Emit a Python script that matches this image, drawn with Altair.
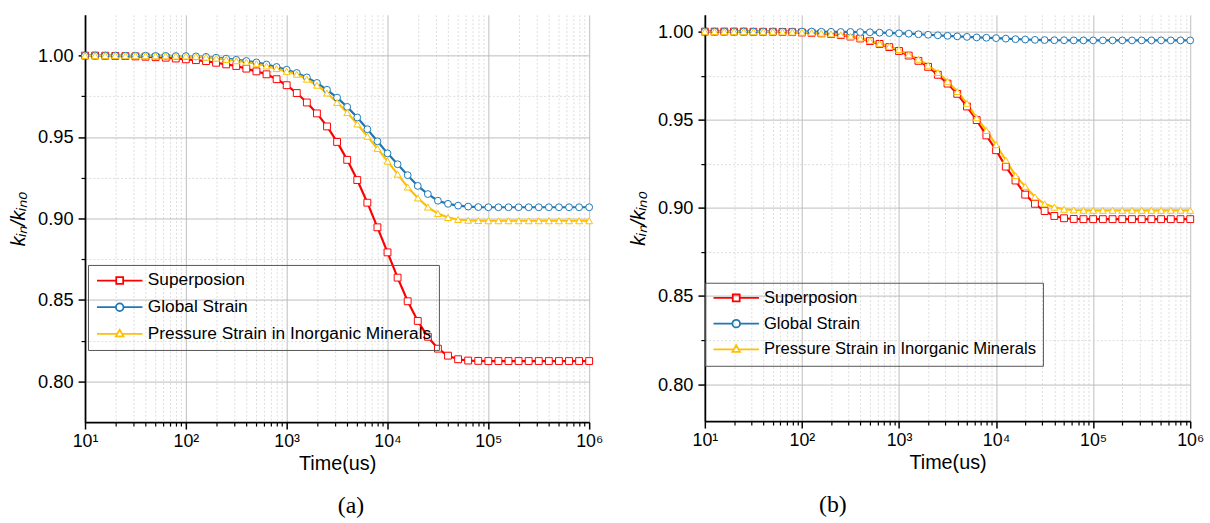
import altair as alt
import pandas as pd

FONT = "Liberation Sans"

# sampling times (us), 10 points per decade
time_us = [10.0, 12.59, 15.85, 19.95, 25.12, 31.62, 39.81, 50.12, 63.10, 79.43,
           100.0, 125.9, 158.5, 199.5, 251.2, 316.2, 398.1, 501.2, 631.0, 794.3,
           1000.0, 1259.0, 1585.0, 1995.0, 2512.0, 3162.0, 3981.0, 5012.0, 6310.0, 7943.0,
           10000.0, 12589.0, 15849.0, 19953.0, 25119.0, 31623.0, 39811.0, 50119.0, 63096.0, 79433.0,
           100000.0, 125893.0, 158489.0, 199526.0, 251189.0, 316228.0, 398107.0, 501187.0, 630957.0, 794328.0,
           1000000.0]

series_names = ["Superposion", "Global Strain", "Pressure Strain in Inorganic Minerals"]
series_colors = ["#FF0000", "#1F77B4", "#FFC000"]
series_shapes = ["square", "circle", "triangle-up"]

# panel (a)
a_super = [1.0000, 1.0000, 0.9999, 0.9998, 0.9997, 0.9995, 0.9993, 0.9990, 0.9987, 0.9982,
           0.9977, 0.9972, 0.9966, 0.9956, 0.9946, 0.9936, 0.9920, 0.9903, 0.9885, 0.9855,
           0.9818, 0.9770, 0.9712, 0.9645, 0.9565, 0.9470, 0.9360, 0.9236, 0.9097, 0.8946,
           0.8792, 0.8637, 0.8492, 0.8371, 0.8274, 0.8201, 0.8158, 0.8136, 0.8128, 0.8126,
           0.8125, 0.8125, 0.8125, 0.8125, 0.8125, 0.8125, 0.8125, 0.8125, 0.8125, 0.8125,
           0.8125]
a_global = [1.0000, 1.0000, 1.0000, 1.0000, 0.9999, 0.9999, 0.9999, 0.9998, 0.9998, 0.9997,
            0.9997, 0.9995, 0.9992, 0.9987, 0.9981, 0.9974, 0.9967, 0.9958, 0.9945, 0.9930,
            0.9913, 0.9893, 0.9866, 0.9832, 0.9790, 0.9742, 0.9685, 0.9620, 0.9548, 0.9474,
            0.9400, 0.9333, 0.9266, 0.9200, 0.9150, 0.9109, 0.9090, 0.9079, 0.9073, 0.9070,
            0.9069, 0.9069, 0.9069, 0.9069, 0.9069, 0.9069, 0.9069, 0.9069, 0.9069, 0.9069,
            0.9069]
a_pressure = [1.0000, 1.0000, 1.0000, 1.0000, 0.9999, 0.9999, 0.9999, 0.9998, 0.9998, 0.9997,
              0.9997, 0.9995, 0.9990, 0.9984, 0.9976, 0.9968, 0.9960, 0.9950, 0.9936, 0.9920,
              0.9903, 0.9885, 0.9855, 0.9818, 0.9770, 0.9712, 0.9650, 0.9580, 0.9505, 0.9430,
              0.9352, 0.9272, 0.9193, 0.9126, 0.9070, 0.9030, 0.9006, 0.8994, 0.8989, 0.8987,
              0.8986, 0.8986, 0.8986, 0.8986, 0.8986, 0.8986, 0.8986, 0.8986, 0.8986, 0.8986,
              0.8986]

# panel (b)
b_super = [1.0000, 1.0000, 1.0000, 1.0000, 1.0000, 0.9999, 0.9999, 0.9999, 0.9998, 0.9997,
           0.9995, 0.9993, 0.9990, 0.9986, 0.9980, 0.9972, 0.9961, 0.9946, 0.9930, 0.9912,
           0.9890, 0.9864, 0.9834, 0.9800, 0.9755, 0.9705, 0.9647, 0.9575, 0.9498, 0.9411,
           0.9327, 0.9234, 0.9155, 0.9075, 0.9023, 0.8982, 0.8954, 0.8941, 0.8937, 0.8936,
           0.8936, 0.8936, 0.8936, 0.8936, 0.8936, 0.8936, 0.8936, 0.8936, 0.8936, 0.8936,
           0.8936]
b_global = [1.0000, 1.0000, 1.0000, 1.0000, 1.0000, 1.0000, 1.0000, 1.0000, 1.0000, 1.0000,
            1.0000, 1.0000, 0.9999, 0.9999, 0.9998, 0.9998, 0.9997, 0.9996, 0.9994, 0.9992,
            0.9990, 0.9988, 0.9985, 0.9982, 0.9979, 0.9976, 0.9973, 0.9970, 0.9967, 0.9965,
            0.9963, 0.9960, 0.9957, 0.9955, 0.9953, 0.9952, 0.9951, 0.9951, 0.9950, 0.9950,
            0.9950, 0.9950, 0.9950, 0.9950, 0.9950, 0.9950, 0.9950, 0.9950, 0.9950, 0.9950,
            0.9950]
b_pressure = [1.0000, 1.0000, 1.0000, 1.0000, 1.0000, 0.9999, 0.9999, 0.9999, 0.9998, 0.9997,
              0.9996, 0.9994, 0.9991, 0.9987, 0.9982, 0.9974, 0.9963, 0.9949, 0.9933, 0.9916,
              0.9898, 0.9869, 0.9843, 0.9809, 0.9768, 0.9718, 0.9660, 0.9593, 0.9511, 0.9439,
              0.9358, 0.9271, 0.9183, 0.9122, 0.9062, 0.9023, 0.9004, 0.8992, 0.8988, 0.8986,
              0.8986, 0.8986, 0.8986, 0.8986, 0.8986, 0.8986, 0.8986, 0.8986, 0.8986, 0.8986,
              0.8986]

x_major = [10, 100, 1000, 10000, 100000, 1000000]
x_minor = [20, 30, 40, 50, 60, 70, 80, 90,
           200, 300, 400, 500, 600, 700, 800, 900,
           2000, 3000, 4000, 5000, 6000, 7000, 8000, 9000,
           20000, 30000, 40000, 50000, 60000, 70000, 80000, 90000,
           200000, 300000, 400000, 500000, 600000, 700000, 800000, 900000]
y_major = [0.80, 0.85, 0.90, 0.95, 1.00]
y_minor = [0.825, 0.875, 0.925, 0.975]

# legend symbols: line segment with hollow marker in the middle
legend_paths = [
    "M-1.9,0H3.67M5.67,0H11.24M3.67,-1H5.67V1H3.67Z",
    "M-1.9,0H3.57M5.77,0H11.24M3.57,0A1.1,1.1,0,1,0,5.77,0A1.1,1.1,0,1,0,3.57,0Z",
    "M-1.9,0H3.97M5.37,0H11.24M3.57,0.7L4.67,-1.2L5.77,0.7Z",
]

SUP = "'10' + ['\u2070','\u00b9','\u00b2','\u00b3','\u2074','\u2075','\u2076'][round(log(datum.value)/LN10)]"


def make_panel(vals, ydomain, w, h, lx, ly, leg_font, caption, cap_dx, xtitle):
    rows = []
    for name, ys in zip(series_names, vals):
        for t, v in zip(time_us, ys):
            rows.append({"time": t, "k": v, "series": name})
    df = pd.DataFrame(rows)

    xs = alt.Scale(type="log", domain=[10, 1000000], nice=False)
    ysc = alt.Scale(domain=ydomain, nice=False, zero=False)
    cs = alt.Scale(domain=series_names, range=series_colors)
    base = alt.Chart(df)

    minor = base.mark_point(opacity=0).encode(
        x=alt.X("time:Q", scale=xs, title=None,
                axis=alt.Axis(orient="bottom", values=x_minor, grid=True, gridDash=[2, 2],
                              gridColor="#d4d4d4", gridWidth=0.8, labels=False, domain=False,
                              tickSize=4, tickColor="#000", tickWidth=1.2)),
        y=alt.Y("k:Q", scale=ysc, title=None,
                axis=alt.Axis(orient="left", values=y_minor, grid=True, gridDash=[2, 2],
                              gridColor="#d4d4d4", gridWidth=0.8, labels=False, domain=False,
                              tickSize=4, tickColor="#000", tickWidth=1.2)),
    )

    lines = base.mark_line(strokeWidth=2.2).encode(
        x=alt.X("time:Q", scale=xs, title=xtitle,
                axis=alt.Axis(orient="bottom", values=x_major, labelExpr=SUP, grid=True,
                              gridColor="#bdbdbd", gridWidth=1, domainColor="#000", domainWidth=1.8,
                              tickSize=7, tickColor="#000", tickWidth=1.5,
                              labelFont=FONT, labelFontSize=18, labelColor="#000", labelPadding=4,
                              labelFlush=False,
                              titleFont=FONT, titleFontSize=20, titleFontWeight="normal",
                              titleColor="#000", titlePadding=3)),
        y=alt.Y("k:Q", scale=ysc, title="k\u1d62\u2099/k\u1d62\u2099\u2080",
                axis=alt.Axis(orient="left", values=y_major, format=".2f", grid=True,
                              gridColor="#bdbdbd", gridWidth=1, domainColor="#000", domainWidth=1.8,
                              tickSize=7, tickColor="#000", tickWidth=1.5,
                              labelFont=FONT, labelFontSize=18.5, labelColor="#000", labelPadding=5,
                              titleFont=FONT, titleFontSize=20, titleFontWeight="normal",
                              titleFontStyle="italic", titleColor="#000", titlePadding=9)),
        color=alt.Color("series:N", scale=cs, legend=None),
    )

    points = base.mark_point(filled=False, fill="white", fillOpacity=1, opacity=1,
                             size=48, strokeWidth=1).encode(
        x=alt.X("time:Q", scale=xs, axis=None),
        y=alt.Y("k:Q", scale=ysc, axis=None),
        color=alt.Color("series:N", scale=cs, legend=None),
        shape=alt.Shape("series:N", scale=alt.Scale(domain=series_names, range=series_shapes),
                        legend=None),
    )

    leg = alt.Legend(orient="none", legendX=lx, legendY=ly, title=None, direction="vertical",
                     labelFont=FONT, labelFontSize=leg_font, labelColor="#000", labelLimit=400,
                     symbolSize=49, symbolStrokeWidth=1.8, strokeColor="#555",
                     padding=7, rowPadding=8, labelOffset=36)
    legend_layer = base.transform_filter("false").mark_point(filled=False, opacity=1,
                                                             strokeWidth=1.8).encode(
        color=alt.Color("series:N", scale=cs, legend=leg),
        shape=alt.Shape("series:N", scale=alt.Scale(domain=series_names, range=legend_paths),
                        legend=leg),
    )

    return alt.layer(minor, lines, points, legend_layer).resolve_scale(
        color="independent", shape="independent"
    ).resolve_axis(x="independent", y="independent").properties(
        width=w, height=h,
        title=alt.TitleParams(text=caption, orient="bottom", anchor="middle",
                              font="Liberation Serif", fontSize=24, fontWeight="normal",
                              color="#000", dx=cap_dx, offset=21),
    )


panel_a = make_panel([a_super, a_global, a_pressure], [0.775, 1.025], 510, 412, 3, 253, 17.5,
                     "(a)", 14, "Time(us)")
panel_b = make_panel([b_super, b_global, b_pressure], [0.779, 1.0095], 491, 411, 0, 271, 16.8,
                     "(b)", -116, "Time(us)")

chart = alt.hconcat(panel_a, panel_b, spacing=24).resolve_scale(
    color="independent", shape="independent"
).configure_view(stroke="transparent").properties(
    padding={"left": 8, "top": 11, "right": 5, "bottom": 0}
)

chart.save("out.html", embed_options={"renderer": "svg", "actions": False})
